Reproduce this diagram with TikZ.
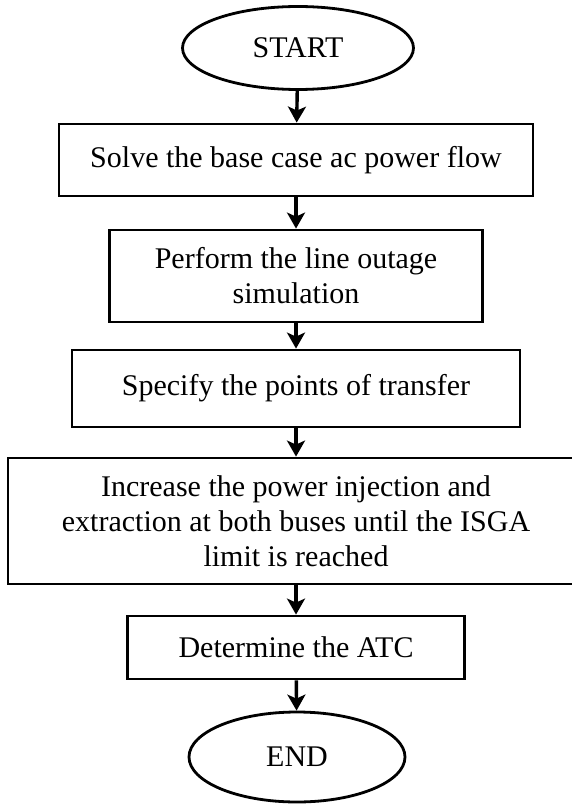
\documentclass[tikz,border=0pt]{standalone}
\usepackage{fontspec}
\setmainfont{Liberation Serif}
\usetikzlibrary{shapes.geometric,arrows.meta}
\begin{document}
\begin{tikzpicture}[x=1pt,y=-1pt,
  every node/.style={font=\fontsize{30}{35}\selectfont, align=center, inner sep=0pt},
  procbox/.style={draw, line width=2.8pt, rectangle},
  term/.style={draw, line width=2.8pt, ellipse},
  flow/.style={line width=3.4pt, -{Stealth[length=16pt,width=18pt,inset=4pt]}}]
\useasboundingbox (0,0) rectangle (571,805);
\node[term, minimum width=231, minimum height=83] (start) at (298,48) {START};
\node[procbox, minimum width=474, minimum height=72] (b1) at (296,160) {Solve the base case ac power flow};
\node[procbox, minimum width=373, minimum height=92] (b2) at (296,276) {Perform the line outage\\simulation};
\node[procbox, minimum width=448, minimum height=77] (b3) at (296,388.5) {Specify the points of transfer};
\node[procbox, minimum width=576, minimum height=126] (b4) at (296,521) {Increase the power injection and\\extraction at both buses until the ISGA\\limit is reached};
\node[procbox, minimum width=337, minimum height=63] (b5) at (296,647.5) {Determine the ATC};
\node[term, minimum width=216, minimum height=90] (end) at (297,757) {END};
\draw[flow] (start) -- (b1);
\draw[flow] (b1) -- (b2);
\draw[flow] (b2) -- (b3);
\draw[flow] (b3) -- (b4);
\draw[flow] (b4) -- (b5);
\draw[flow] (b5) -- (end);
\end{tikzpicture}
\end{document}
